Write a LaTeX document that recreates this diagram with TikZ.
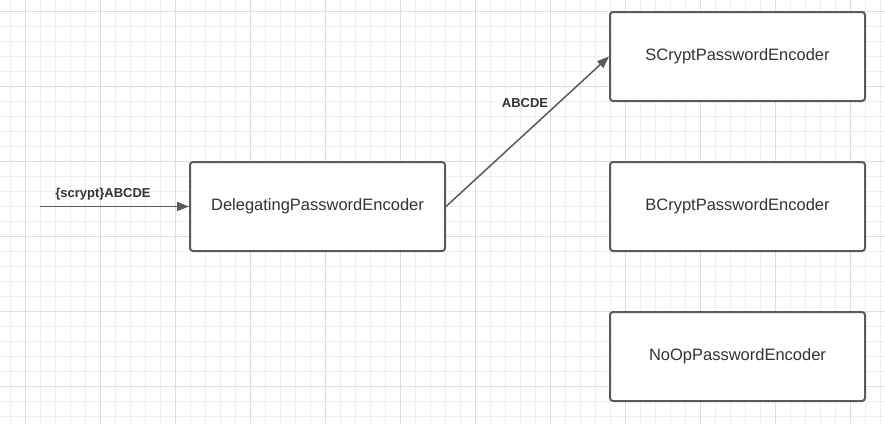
\documentclass[tikz,border=0pt]{standalone}
\usepackage{fontspec}
\setmainfont{Liberation Sans}
\usetikzlibrary{arrows.meta}
\definecolor{gridminor}{HTML}{EEEEEE}
\definecolor{gridmajor}{HTML}{DDDDDD}
\definecolor{edge}{HTML}{5A5A5A}
\definecolor{txt}{HTML}{333333}
\tikzset{
  box/.style={draw=edge, line width=2pt, rounded corners=3pt, minimum width=255pt, minimum height=89pt, inner sep=0pt, text=txt, font=\fontsize{16.5}{19}\selectfont, fill=white},
  conn/.style={draw=edge, line width=1.5pt, -{Triangle[length=12pt,width=9pt]}},
  lbl/.style={text=txt, font=\fontsize{13}{15}\bfseries\selectfont, inner sep=0pt}
}
\begin{document}
\begin{tikzpicture}[x=1pt,y=-1pt]
\useasboundingbox (0,0) rectangle (885,424);
\fill[white] (0,0) rectangle (885,424);
\foreach \i in {0,...,58} {\draw[gridminor, line width=1pt] (10+15*\i,0) -- (10+15*\i,424);}
\foreach \j in {0,...,27} {\draw[gridminor, line width=1pt] (0,11+15*\j) -- (885,11+15*\j);}
\foreach \i in {0,...,11} {\draw[gridmajor, line width=1pt] (25+75*\i,0) -- (25+75*\i,424);}
\foreach \j in {0,...,5} {\draw[gridmajor, line width=1pt] (0,11+75*\j) -- (885,11+75*\j);}
\node[box] (del) at (317.5,206.5) {DelegatingPasswordEncoder};
\node[box] (scr) at (737.5,56.5) {SCryptPasswordEncoder};
\node[box] (bcr) at (737.5,206.5) {BCryptPasswordEncoder};
\node[box] (noop) at (737.5,356.5) {NoOpPasswordEncoder};
\coordinate (src) at (40,206.5);
\draw[conn] (src) -- (del.west);
\draw[conn] (del.east) -- (scr.west);
\node[lbl] (l1) at (103,194) {\{scrypt\}ABCDE};
\node[lbl] (l2) at (525,103) {ABCDE};
\end{tikzpicture}
\end{document}
